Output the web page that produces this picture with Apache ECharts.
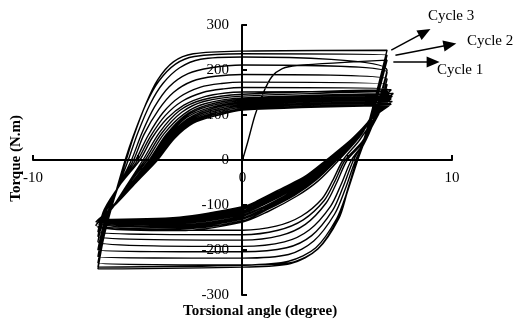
<!DOCTYPE html>
<html>
<head>
<meta charset="utf-8">
<script src="https://cdn.jsdelivr.net/npm/echarts@6/dist/echarts.min.js"></script>
<style>
html, body { margin: 0; padding: 0; background: #fff; }
#main { width: 516px; height: 324px; }
</style>
</head>
<body>
<div id="main"></div>
<script>
// axis ticks
var xTicks = [-10, 0, 10];
var yTicks = [-300, -200, -100, 0, 100, 200, 300];

// initial loading, then cycles (angle in degree, torque in N.m)
var loading = [[0,0],[0.25,40],[0.6,100],[1.0,150],[1.4,185],[1.9,203],[2.6,210],[6.9,222]];
var cycle01 = [[6.5,150],[6.0,65],[5.5,0],[5.0,-70],[4.5,-130],[3.5,-195],[2.2,-225],[0,-234],[-6.9,-238]];
var cycle02 = [[-6.6,-165],[-6.1,-80],[-5.6,0],[-5.2,55],[-4.6,125],[-4.0,175],[-3.2,213],[-2.3,230],[0,236],[6.9,233],
  [6.5,158],[6.0,70],[5.5,0],[5.0,-72],[4.6,-130],[3.6,-198],[2.3,-230],[0,-238],[-6.9,-242]];
var cycle03 = [[-6.6,-168],[-6.1,-82],[-5.55,0],[-5.2,52],[-4.6,126],[-4.05,178],[-3.3,218],[-2.35,236],[0,242],[6.9,244],
  [6.4,150],[5.9,62],[5.45,0],[5.0,-68],[4.6,-126],[3.6,-197],[2.3,-228],[0,-233],[-6.9,-229]];
var cycle04 = [[-6.6,-160],[-6.05,-75],[-5.45,0],[-5.0,60],[-4.4,125],[-3.8,170],[-3.0,205],[-2.0,224],[0,229],[6.9,200],
  [6.5,130],[6.0,55],[5.4,0],[4.9,-65],[4.4,-120],[3.4,-180],[2.2,-210],[0,-218],[-6.9,-215]];
var cycle05 = [[-6.6,-148],[-6.0,-68],[-5.3,0],[-4.8,60],[-4.2,118],[-3.5,163],[-2.6,192],[-1.5,205],[0,211],[6.9,195],
  [6.5,125],[5.9,50],[5.3,0],[4.8,-60],[4.3,-112],[3.3,-168],[2.1,-195],[0,-204],[-6.9,-200]];
var cycle06 = [[-6.6,-138],[-5.95,-62],[-5.2,0],[-4.7,57],[-4.0,112],[-3.3,150],[-2.4,175],[-1.3,186],[0,190],[6.9,180],
  [6.5,115],[5.9,45],[5.2,0],[4.7,-55],[4.2,-103],[3.2,-155],[2.0,-182],[0,-192],[-6.9,-182]];
var cycle07 = [[-6.6,-125],[-5.9,-58],[-5.1,0],[-4.5,55],[-3.8,105],[-3.0,140],[-2.0,162],[-1.0,170],[0,173],[6.9,168],
  [6.5,108],[5.8,42],[5.0,0],[4.5,-50],[4.0,-95],[3.0,-143],[1.8,-168],[0,-178],[-6.9,-170]];
var cycle08 = [[-6.6,-117],[-5.85,-55],[-5.0,0],[-4.4,52],[-3.7,98],[-2.9,130],[-1.9,150],[-0.9,158],[0,161],[6.9,158],
  [6.5,102],[5.7,40],[4.9,0],[4.4,-48],[3.9,-90],[2.9,-133],[1.7,-156],[0,-166],[-6.9,-160]];
var cycle09 = [[-6.6,-110],[-5.8,-52],[-4.9,0],[-4.3,50],[-3.6,92],[-2.8,122],[-1.8,141],[-0.8,149],[0,151],[6.9,152],
  [6.5,110],[5.6,45],[4.8,0],[4.3,-46],[3.8,-86],[2.8,-125],[1.6,-147],[0,-156],[-6.9,-150]];
var cycle10 = [[-6.3,-112],[-5.55,-58],[-4.75,0],[-3.95,62],[-3.0,110],[-1.9,134],[0,146],[7.1,156],
  [6.45,122],[5.7,58],[4.6,0],[3.6,-47],[2.6,-80],[1.2,-115],[0,-138],[-3,-157],[-6.8,-147]];
var cycle11 = [[-6.25,-109],[-5.5,-56],[-4.65,0],[-3.85,60],[-2.9,106],[-1.85,130],[0,142],[6.95,152],
  [6.45,119],[5.65,57],[4.5,0],[3.5,-45],[2.5,-78],[1.15,-111],[0,-135],[-3,-153],[-7.0,-145]];
var cycle12 = [[-6.25,-107],[-5.45,-55],[-4.55,0],[-3.75,58],[-2.8,102],[-1.8,125],[0,138],[7.2,148],
  [6.45,116],[5.6,55],[4.45,0],[3.45,-44],[2.45,-76],[1.1,-109],[0,-131],[-3,-150],[-6.85,-143]];
var cycle13 = [[-6.2,-106],[-5.35,-54],[-4.45,0],[-3.65,56],[-2.75,99],[-1.7,122],[0,135],[7.0,145],
  [6.4,113],[5.55,54],[4.4,0],[3.4,-43],[2.4,-74],[1.05,-107],[0,-128],[-3,-147],[-6.95,-141]];
var cycle14 = [[-6.2,-104],[-5.3,-53],[-4.4,0],[-3.6,55],[-2.7,97],[-1.65,119],[0,132],[7.15,142],
  [6.4,111],[5.5,53],[4.35,0],[3.35,-42],[2.35,-73],[1.0,-105],[0,-125],[-3,-144],[-6.8,-140]];
var cycle15 = [[-6.2,-103],[-5.3,-52],[-4.35,0],[-3.55,54],[-2.65,95],[-1.6,116],[0,129],[6.95,139],
  [6.4,109],[5.5,52],[4.3,0],[3.3,-42],[2.3,-72],[1.0,-104],[0,-122],[-3,-141],[-7.0,-138]];
var cycle16 = [[-6.15,-101],[-5.25,-51],[-4.3,0],[-3.5,53],[-2.6,92],[-1.55,113],[0,126],[7.1,136],
  [6.4,107],[5.45,51],[4.25,0],[3.25,-41],[2.25,-70],[0.95,-101],[0,-119],[-3,-138],[-6.9,-137]];
var cycle17 = [[-6.1,-100],[-5.2,-50],[-4.25,0],[-3.45,52],[-2.55,90],[-1.5,110],[0,123],[7.0,133],
  [6.35,105],[5.4,50],[4.2,0],[3.2,-40],[2.2,-68],[0.9,-99],[0,-116],[-3,-135],[-6.85,-136]];
var cycle18 = [[-6.1,-99],[-5.15,-49],[-4.2,0],[-3.4,51],[-2.5,88],[-1.45,107],[0,120],[7.15,130],
  [6.35,103],[5.35,49],[4.15,0],[3.15,-39],[2.15,-66],[0.85,-97],[0,-113],[-3,-133],[-6.95,-135]];
var cycle19 = [[-6.05,-98],[-5.1,-48],[-4.15,0],[-3.35,50],[-2.45,86],[-1.4,104],[0,117],[6.95,127],
  [6.35,101],[5.3,48],[4.1,0],[3.1,-38],[2.1,-64],[0.8,-95],[0,-110],[-3,-131],[-6.8,-134]];
var cycle20 = [[-6.05,-97],[-5.05,-47],[-4.1,0],[-3.3,49],[-2.4,84],[-1.35,101],[0,114],[7.1,124],
  [6.3,99],[5.25,47],[4.05,0],[3.05,-37],[2.05,-62],[0.75,-93],[0,-107],[-3,-129],[-6.9,-133]];
var cycle21 = [[-6.0,-96],[-5.0,-46],[-4.05,0],[-3.25,48],[-2.35,82],[-1.3,98],[0,111],[7.0,121],
  [6.3,97],[5.2,46],[4.0,0],[3.0,-36],[2.0,-60],[0.7,-91],[0,-104],[-3,-127],[-6.9,-132]];

// arrows pointing at the cycle peaks: [start, end] in data units
var arrowCycle1 = [[7.2,218],[9.1,218]];
var arrowCycle2 = [[7.3,233],[9.9,256]];
var arrowCycle3 = [[7.1,244],[8.7,284]];

var cycles = [cycle01, cycle02, cycle03, cycle04, cycle05, cycle06, cycle07, cycle08, cycle09, cycle10, cycle11,
  cycle12, cycle13, cycle14, cycle15, cycle16, cycle17, cycle18, cycle19, cycle20, cycle21];

var path = loading.slice();
cycles.forEach(function (c) { path = path.concat(c); });

var serif = 'Liberation Serif';
var myChart = echarts.init(document.getElementById('main'));

// the axes cross at the origin: the grid is 419 x 270, origin at (242,160)
var option = {
	animation : false,
	backgroundColor : '#fff',
	grid : { left : 33, right : 64, top : 25, bottom : 29, containLabel : false, outerBoundsMode : 'none' },
	xAxis : {
		type : 'value',
		min : -10,
		max : 10,
		interval : 5,
		offset : -135,
		splitLine : { show : false },
		axisLine : { onZero : false, lineStyle : { color : '#000', width : 2 } },
		axisTick : { inside : true, length : 5, lineStyle : { color : '#000', width : 2 } },
		axisLabel : {
			margin : 11,
			color : '#000',
			fontFamily : serif,
			fontSize : 15,
			formatter : function(v) { return xTicks.indexOf(v) >= 0 ? String(v) : ''; }
		}
	},
	yAxis : {
		type : 'value',
		min : -300,
		max : 300,
		interval : 100,
		offset : -209,
		splitLine : { show : false },
		axisLine : { onZero : false, lineStyle : { color : '#000', width : 2 } },
		axisTick : { inside : true, length : 5, lineStyle : { color : '#000', width : 2 } },
		axisLabel : {
			margin : 13,
			color : '#000',
			fontFamily : serif,
			fontSize : 15,
			formatter : function(v) { return yTicks.indexOf(v) >= 0 ? String(v) : ''; }
		}
	},
	graphic : [
		{ type : 'text', left : 9, top : 115, rotation : Math.PI / 2, style : { text : 'Torque (N.m)', font : 'bold 15px ' + serif, fill : '#000' } },
		{ type : 'text', left : 183, top : 304, style : { text : 'Torsional angle (degree)', font : 'bold 15px ' + serif, fill : '#000' } },
		{ type : 'text', left : 428, top : 9, style : { text : 'Cycle 3', font : '15px ' + serif, fill : '#000' } },
		{ type : 'text', left : 467, top : 34, style : { text : 'Cycle 2', font : '15px ' + serif, fill : '#000' } },
		{ type : 'text', left : 437, top : 63, style : { text : 'Cycle 1', font : '15px ' + serif, fill : '#000' } }
	],
	series : [ {
		type : 'line',
		data : path,
		showSymbol : false,
		smooth : 0.3,
		lineStyle : { color : '#000', width : 1.4 },
		z : 3,
		markLine : {
			silent : true,
			symbol : [ 'none', 'triangle' ],
			symbolSize : [ 11, 13 ],
			label : { show : false },
			lineStyle : { color : '#000', width : 1.5, type : 'solid' },
			data : [
				[ { coord : arrowCycle1[0] }, { coord : arrowCycle1[1] } ],
				[ { coord : arrowCycle2[0] }, { coord : arrowCycle2[1] } ],
				[ { coord : arrowCycle3[0] }, { coord : arrowCycle3[1] } ]
			]
		}
	} ]
};
myChart.setOption(option);
</script>
</body>
</html>
